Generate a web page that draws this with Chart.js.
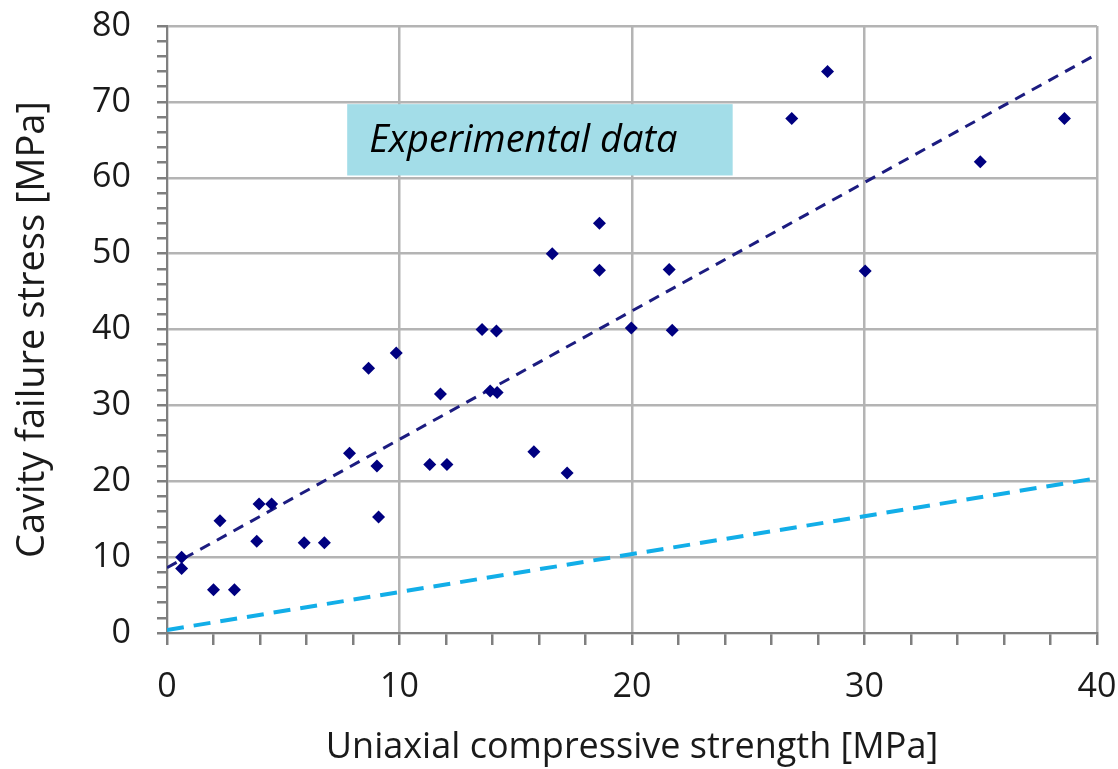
<!DOCTYPE html>
<html>
<head>
<meta charset="utf-8">
<script src="https://cdn.jsdelivr.net/npm/chart.js@4/dist/chart.umd.min.js"></script>
<style>
  html, body { margin: 0; padding: 0; background: #fff; }
  #wrap { width: 1118px; height: 769px; }
</style>
</head>
<body>
<div id="wrap"><canvas id="chart" width="1118" height="769"></canvas></div>
<script>
// measured samples: UCS [MPa] vs cavity failure stress [MPa]
var ucs = [0.63, 0.63, 2.0, 2.9, 2.28, 3.86, 3.96, 4.5, 5.9, 6.77, 7.85, 8.67, 9.03, 9.1, 9.86,
           11.76, 11.3, 12.04, 13.55, 14.17, 13.9, 14.2, 15.78, 17.21, 16.57, 18.6, 18.6, 19.97,
           21.6, 21.73, 28.41, 26.87, 34.98, 38.6, 30.03];
var failure = [10.0, 8.5, 5.7, 5.7, 14.8, 12.1, 17.0, 17.0, 11.9, 11.9, 23.7, 34.9, 22.0, 15.3, 36.9,
               31.5, 22.2, 22.2, 40.0, 39.8, 31.9, 31.7, 23.9, 21.1, 50.0, 54.0, 47.8, 40.2,
               47.9, 39.9, 74.0, 67.8, 62.1, 67.8, 47.7];

// trend lines, end points at x = 0 and x = 40
var fitX = [0, 40];
var fitExp = [8.6, 76.3];
var fitLow = [0.4, 20.4];

var xTicks = [0, 10, 20, 30, 40];
var yTicks = [0, 10, 20, 30, 40, 50, 60, 70, 80];

function pts(xs, ys) {
    var out = [];
    for (var i = 0; i < xs.length; i++) out.push({x: xs[i], y: ys[i]});
    return out;
}

var gridGray = '#b4b4b4';
var axisGray = '#7f7f7f';
var textFont = "'Open Sans'";

// cyan label box drawn in data coordinates
var labelBox = {
    id: 'labelBox',
    beforeDatasetsDraw: function(chart) {
        var ctx = chart.ctx;
        var xs = chart.scales.x, ys = chart.scales.y;
        var l = xs.getPixelForValue(7.75), r = xs.getPixelForValue(24.33);
        var t = ys.getPixelForValue(69.7), b = ys.getPixelForValue(60.3);
        ctx.save();
        ctx.fillStyle = '#a3dde8';
        ctx.fillRect(l, t, r - l, b - t);
        ctx.fillStyle = '#000';
        ctx.font = 'italic 38px ' + textFont;
        ctx.textBaseline = 'alphabetic';
        ctx.fillText('Experimental data', l + 22, t + 48);
        ctx.restore();
    }
};

var ctx = document.getElementById('chart').getContext('2d');
var myChart = new Chart(ctx, {
    type: 'scatter',
    data: {
        datasets: [
            {
                label: 'Experimental data',
                data: pts(ucs, failure),
                pointStyle: 'rectRot',
                pointRadius: 6.5,
                backgroundColor: '#000080',
                borderColor: '#000080',
                borderWidth: 0
            },
            {
                type: 'line',
                label: 'fit',
                data: pts(fitX, fitExp),
                borderColor: '#1c1c80',
                borderWidth: 3,
                borderDash: [11, 8],
                pointRadius: 0,
                fill: false
            },
            {
                type: 'line',
                label: 'lower',
                data: pts(fitX, fitLow),
                borderColor: '#12aee8',
                borderWidth: 4,
                borderDash: [17, 10],
                pointRadius: 0,
                fill: false
            }
        ]
    },
    options: {
        responsive: false,
        animation: false,
        layout: { padding: { left: 0, right: 21, top: 26, bottom: 0 } },
        plugins: { legend: { display: false }, tooltip: { enabled: false } },
        scales: {
            x: {
                type: 'linear',
                min: 0, max: 40,
                afterFit: function(scale) {
                    scale.height = 769 - 633;
                    scale.paddingLeft = 0;
                    scale.paddingRight = 0;
                },
                ticks: {
                    stepSize: 2,
                    autoSkip: false,
                    maxRotation: 0,
                    padding: 22,
                    color: '#1a1a1a',
                    font: { family: textFont, size: 34 },
                    callback: function(v) { return xTicks.indexOf(v) >= 0 ? String(v) : ''; }
                },
                grid: {
                    color: function(c) { return c.tick && c.tick.value % 10 === 0 ? gridGray : 'rgba(0,0,0,0)'; },
                    lineWidth: 2.5,
                    tickColor: axisGray,
                    tickLength: 12
                },
                border: { color: axisGray, width: 2 },
                title: {
                    display: true,
                    text: 'Uniaxial compressive strength [MPa]',
                    color: '#1a1a1a',
                    font: { family: textFont, size: 36 },
                    padding: { top: 0, bottom: 0 }
                }
            },
            y: {
                type: 'linear',
                min: 0, max: 80,
                afterFit: function(scale) {
                    scale.width = 167;
                    scale.paddingTop = 0;
                    scale.paddingBottom = 0;
                },
                ticks: {
                    stepSize: 2,
                    autoSkip: false,
                    padding: 26,
                    color: '#1a1a1a',
                    font: { family: textFont, size: 34 },
                    callback: function(v) { return yTicks.indexOf(v) >= 0 ? String(v) : ''; }
                },
                grid: {
                    color: function(c) { return c.tick && c.tick.value % 10 === 0 ? gridGray : 'rgba(0,0,0,0)'; },
                    lineWidth: 2.5,
                    tickColor: axisGray,
                    tickLength: 10
                },
                border: { color: axisGray, width: 2 },
                title: {
                    display: true,
                    text: 'Cavity failure stress [MPa]',
                    color: '#1a1a1a',
                    font: { family: textFont, size: 38 },
                    padding: { top: 10 }
                }
            }
        }
    },
    plugins: [labelBox]
});
</script>
</body>
</html>
